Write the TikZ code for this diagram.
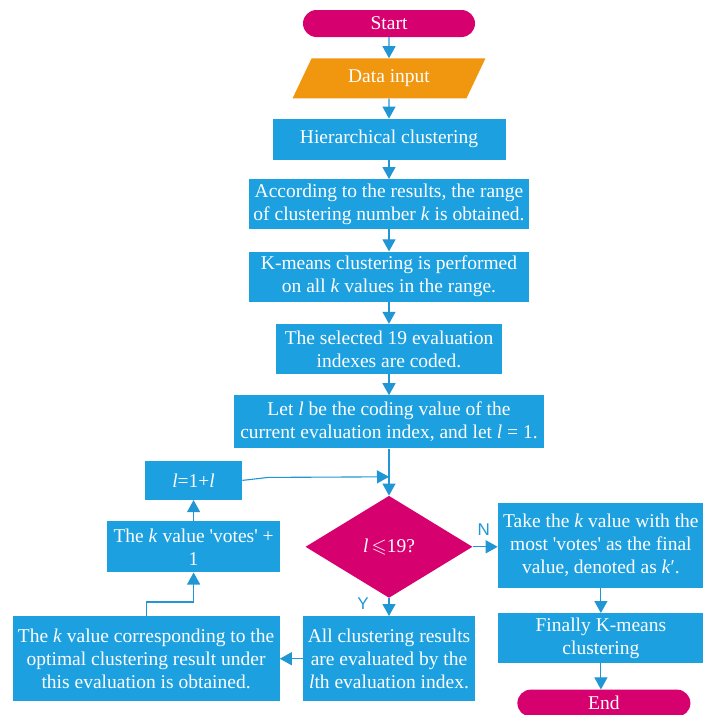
\documentclass[tikz,border=0pt]{standalone}
\usepackage{amssymb}
\usepackage{fontspec}
\setmainfont{Liberation Serif}
\setsansfont{Liberation Sans}
\usepackage{xcolor}
\definecolor{cBoxBg}{HTML}{1DA0E0}
\definecolor{cFlow}{HTML}{2196D4}
\definecolor{cTerm}{HTML}{D6006E}
\definecolor{cInput}{HTML}{F0960F}
\usepackage{tikz}
\usetikzlibrary{arrows.meta,positioning,shapes.geometric,calc}
\tikzset{>={Triangle[width=13pt,length=12pt]},
  box/.style={fill=cBoxBg,text=white,align=center,inner sep=2pt,
    font=\fontsize{19.5pt}{23pt}\selectfont},
  termbox/.style={box,fill=cTerm,rounded corners=13.5pt,minimum width=172pt,minimum height=27pt},
  iobox/.style={box,fill=cInput,trapezium,trapezium left angle=63.4,trapezium right angle=116.6,
    trapezium stretches=true,minimum width=193pt,minimum height=40pt},
  decbox/.style={box,fill=cTerm,diamond,aspect=1.6,inner sep=1pt,minimum width=167pt,minimum height=102pt},
  flow/.style={->,line width=1.1pt,cFlow},
  yn/.style={font=\sffamily\fontsize{17pt}{17pt}\selectfont,text=cFlow}}

\begin{document}
\begin{tikzpicture}[node distance=21pt]
  \useasboundingbox (0,0) rectangle (703pt,-715pt);
  % main column
  \node[termbox] (start) at (389pt,-23.5pt) {Start};
  \node[iobox,below=of start] (input) {Data input};
  \node[box,below=20pt of input,minimum width=233pt,minimum height=41pt] (hier) {Hierarchical clustering};
  \node[box,below=19pt of hier,minimum width=280pt,minimum height=50pt] (range)
    {According to the results, the range\\of clustering number \textit{k} is obtained.};
  \node[box,below=22pt of range,minimum width=280pt,minimum height=50pt] (kmeans)
    {K-means clustering is performed\\on all \textit{k} values in the range.};
  \node[box,below=22pt of kmeans,minimum width=226pt,minimum height=50pt] (coded)
    {The selected 19 evaluation\\indexes are coded.};
  \node[box,below=of coded,minimum width=310pt,minimum height=53pt] (letl)
    {Let \textit{l} be the coding value of the\\current evaluation index, and let \textit{l} = 1.};
  \node[decbox,below=47pt of letl] (cond) {\textit{l}\,$\leqslant$19?};
  \node[box,below=18pt of cond,minimum width=172pt,minimum height=85pt] (evalall)
    {All clustering results\\are evaluated by the\\\textit{l}th evaluation index.};
  % loop on the left
  \node[box,left=23pt of evalall,minimum width=267pt,minimum height=85pt] (optk)
    {The \textit{k} value corresponding to the\\optimal clustering result under\\this evaluation is obtained.};
  \node[box,left=25pt of cond,minimum width=173pt,minimum height=51pt] (votes)
    {The \textit{k} value \textquotesingle votes\textquotesingle\ +\\1};
  \node[box,above=of votes,minimum width=97pt,minimum height=39pt] (incl)
    {\textit{l}=1+\textit{l}};
  % exit on the right
  \node[box,right=25pt of cond,yshift=1.5pt,minimum width=206pt,minimum height=85pt] (takek)
    {Take the \textit{k} value with the\\most \textquotesingle votes\textquotesingle\ as the final\\value, denoted as \textit{k}′.};
  \node[box,below=25pt of takek,minimum width=206pt,minimum height=50pt] (final)
    {Finally K-means\\clustering};
  \node[termbox,below=26pt of final,xshift=3pt,minimum width=173pt] (end) {End};
  \coordinate (join) at ($(letl.south)!0.6!(cond.north)$);

  \draw[flow](start)--(input);\draw[flow](input)--(hier);\draw[flow](hier)--(range);
  \draw[flow](range)--(kmeans);\draw[flow](kmeans)--(coded);\draw[flow](coded)--(letl);
  \draw[flow](letl.south)--(cond.north);
  \draw[flow](cond)--(evalall);\draw[flow](evalall)--(optk);
  \draw[flow](optk.north)--++(0,14pt)-|(votes.south);
  \draw[flow](votes)--(incl);
  \draw[flow](incl.east)--++(26pt,3pt)--(join);
  \draw[flow](cond.east)--(cond.east-|takek.west);\draw[flow](takek)--(final);
  \draw[flow](final.south)--(final.south|-end.north);
  \node[yn] at ([xshift=-26pt,yshift=-6pt]cond.south) {Y};
  \node[yn] at ([xshift=11pt,yshift=17pt]cond.east) {N};
\end{tikzpicture}
\end{document}
